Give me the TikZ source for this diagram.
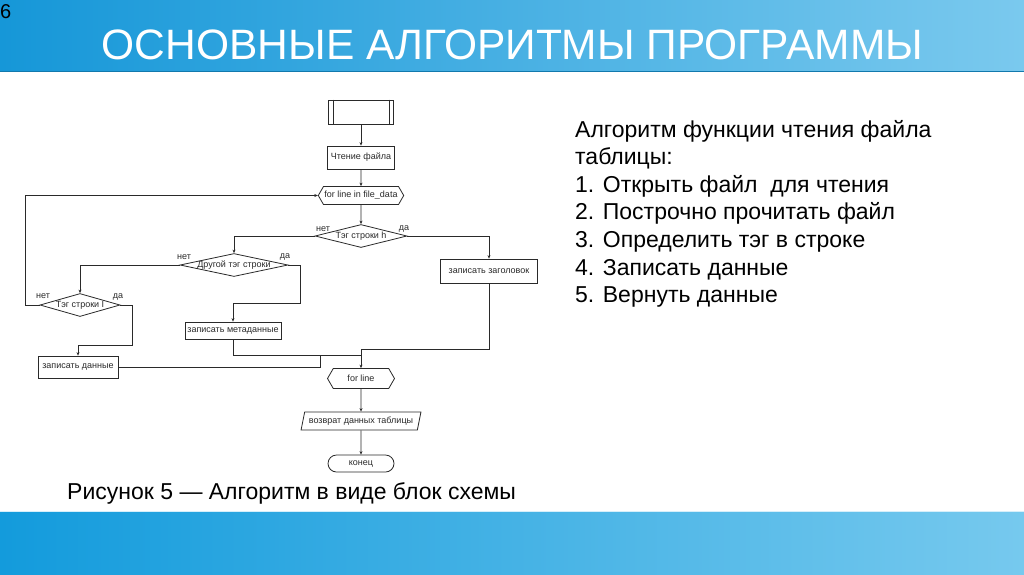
\documentclass[tikz,border=0pt]{standalone}
\usepackage{fontspec}
\setmainfont{Liberation Sans}
\usetikzlibrary{shapes.geometric,shapes.symbols,shapes.misc,arrows.meta}
\definecolor{hdrL}{HTML}{1697D8}
\definecolor{hdrR}{HTML}{7AC9EE}
\definecolor{ftrL}{HTML}{139BDC}
\definecolor{ftrR}{HTML}{76C9EE}
\definecolor{ln}{HTML}{2A2A2A}
\tikzset{
  fc/.style={font=\fontsize{9}{10}\selectfont, text=ln},
  proc/.style={fc, draw=ln, line width=0.8pt, rectangle, inner sep=1pt},
  dec/.style={draw=ln, line width=0.8pt, diamond, inner sep=0pt},
  hexa/.style={fc, draw=ln, line width=0.8pt, signal, signal to=east and west, signal pointer angle=120, inner sep=1pt},
  para/.style={fc, draw=ln, line width=0.8pt, trapezium, trapezium left angle=72, trapezium right angle=108, trapezium stretches=true, inner sep=1pt},
  term/.style={fc, draw=ln, line width=0.8pt, rounded rectangle, inner sep=1pt},
  lab/.style={font=\fontsize{9}{10}\selectfont, text=ln, inner sep=0pt},
  con/.style={draw=ln, line width=0.8pt},
  arr/.style={con, -{Stealth[length=3.5pt,width=3pt]}},
  body/.style={font=\fontsize{23}{27}\selectfont, anchor=base west, inner sep=0pt},
}
\begin{document}
\begin{tikzpicture}[x=1pt,y=-1pt]
\useasboundingbox (0,0) rectangle (1024,574);
\fill[white] (0,0) rectangle (1024,574);
% header and footer
\shade[left color=hdrL, right color=hdrR] (0,0) rectangle (1024,71);
\draw[hdrL!80!black, line width=0.6pt] (0,71) -- (1024,71);
\shade[left color=ftrL, right color=ftrR] (0,511) rectangle (1024,574);
\draw[white!70!ftrR, line width=0.8pt] (0,511) -- (1024,511);
\node[font=\fontsize{42.5}{46}\selectfont, text=white, inner sep=0pt] (title) at (512.5,45) {ОСНОВНЫЕ АЛГОРИТМЫ ПРОГРАММЫ};
\node[font=\fontsize{20}{24}\selectfont, anchor=base west, inner sep=0pt] (pnum) at (0,18) {6};

% right text
\node[body] (t1) at (575,137) {Алгоритм функции чтения файла};
\node[body] (t2) at (575,164.6) {таблицы:};
\node[body] (t3) at (575,192.2) {1. Открыть файл\ \ для чтения};
\node[body] (t4) at (575,219.8) {2. Построчно прочитать файл};
\node[body] (t5) at (575,247.4) {3. Определить тэг в строке};
\node[body] (t6) at (575,275) {4. Записать данные};
\node[body] (t7) at (575,302.6) {5. Вернуть данные};

% caption
\node[body] (cap) at (67,499) {Рисунок 5 — Алгоритм в виде блок схемы};

% flowchart nodes
\node[proc, minimum width=65pt, minimum height=24pt] (start) at (361,112) {};
\draw[con] ([xshift=5pt]start.north west) -- ([xshift=5pt]start.south west);
\draw[con] ([xshift=-5pt]start.north east) -- ([xshift=-5pt]start.south east);
\node[proc, minimum width=67pt, minimum height=23pt] (read) at (361,157.5) {Чтение файла};
\node[hexa, minimum width=78pt, minimum height=18pt] (loop1) at (361,195.5) {for line in file\_data};
\node[dec, minimum width=92pt, minimum height=23pt] (dH) at (361,236) {};
\node[lab] (dHt) at (dH) {Тэг строки h};
\node[dec, minimum width=108pt, minimum height=23pt] (dO) at (234,265) {};
\node[lab] (dOt) at (dO) {Другой тэг строки};
\node[dec, minimum width=80pt, minimum height=23pt] (dI) at (80,305) {};
\node[lab] (dIt) at (dI) {Тэг строки I};
\node[proc, minimum width=97pt, minimum height=24pt] (hdr) at (489,271) {записать заголовок};
\node[proc, minimum width=96pt, minimum height=17pt] (meta) at (233,330.5) {записать метаданные};
\node[proc, minimum width=80pt, minimum height=22pt] (data) at (78,367) {записать данные};
\node[hexa, minimum width=67pt, minimum height=20pt] (loop2) at (361,378.5) {for line};
\node[para, minimum width=120pt, minimum height=18pt] (ret) at (361,421) {возврат данных таблицы};
\node[term, minimum width=68pt, minimum height=17pt] (fin) at (361,463.5) {конец};

% yes/no labels
\node[lab] (nH) at (323,229) {нет};
\node[lab] (yH) at (404,229) {да};
\node[lab] (nO) at (184,257) {нет};
\node[lab] (yO) at (285,257) {да};
\node[lab] (nI) at (43,296.5) {нет};
\node[lab] (yI) at (118,296.5) {да};

% helper coordinates
\coordinate (cL) at (25,305);
\coordinate (cO) at (300,265);
\coordinate (cO2) at (300,303);
\coordinate (cI) at (132,305);
\coordinate (cI2) at (132,345);
\coordinate (j1) at (361,349);
\coordinate (j2) at (361,355);
\coordinate (j3) at (320,367);

% connectors
\draw[arr] (start) -- (read);
\draw[arr] (read) -- (loop1);
\draw[arr] (loop1) -- (dH);
\draw[arr] (dH.west) -| (dO.north);
\draw[arr] (dH.east) -| (hdr.north);
\draw[arr] (dO.west) -| (dI.north);
\draw[arr] (dO.east) -- (cO) -- (cO2) -| (meta.north);
\draw[arr] (dI.east) -- (cI) -- (cI2) -| (data.north);
\draw[arr] (dI.west) -- (cL) |- (loop1.west);
\draw[con] (hdr.south) |- (j1);
\draw[con] (meta.south) |- (j2);
\draw[con] (data.east) -- (j3) |- (j2);
\draw[arr] (j1) -- (loop2.north);
\draw[arr] (loop2) -- (ret);
\draw[arr] (ret) -- (fin);
\end{tikzpicture}
\end{document}
